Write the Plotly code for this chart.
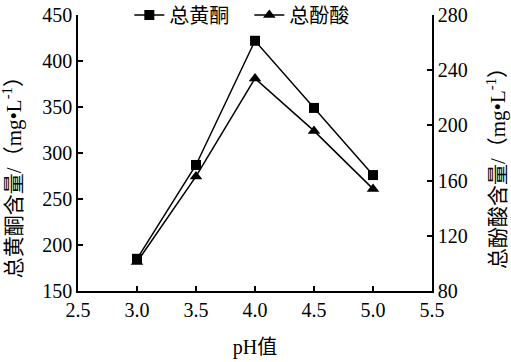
import plotly.graph_objects as go

ph = [3.0, 3.5, 4.0, 4.5, 5.0]
flavone = [185, 287, 422, 349, 276]
phenolic = [101, 163, 234, 196, 154]
name1 = "总黄酮"
name2 = "总酚酸"
xtitle = "pH值"
y1title = "总黄酮含量/（mg•L<sup>-1</sup>）"
y2title = "总酚酸含量/（mg•L<sup>-1</sup>）"

font_family = "Liberation Serif, Times New Roman, Noto Sans CJK SC, serif"

fig = go.Figure()
fig.add_trace(go.Scatter(x=ph, y=flavone, name=name1, mode="lines+markers",
                         line=dict(color="black", width=1.5),
                         marker=dict(symbol="square", size=10, color="black")))
fig.add_trace(go.Scatter(x=ph, y=phenolic, name=name2, mode="lines+markers", yaxis="y2",
                         line=dict(color="black", width=1.5),
                         marker=dict(symbol="triangle-up", size=11, color="black")))

axis_common = dict(showgrid=False, zeroline=False, showline=True, linecolor="black",
                   linewidth=1.5, ticks="inside", ticklen=5, tickcolor="black", tickwidth=1.5,
                   tickfont=dict(size=20, color="black", family=font_family))

fig.update_layout(
    width=511, height=362,
    margin=dict(l=78, r=79, t=15, b=71, autoexpand=False),
    paper_bgcolor="white", plot_bgcolor="white",
    font=dict(family=font_family, color="black", size=20),
    showlegend=True,
    legend=dict(orientation="h", x=0.145, y=1.0, xanchor="left", yanchor="middle",
                bgcolor="rgba(0,0,0,0)", font=dict(size=20), itemwidth=30,
                entrywidth=75, tracegroupgap=0),
    xaxis=dict(range=[2.5, 5.5], dtick=0.5, tickformat=".1f",
               title=dict(text=xtitle, standoff=20, font=dict(size=20)), **axis_common),
    yaxis=dict(range=[150, 450], dtick=50, **axis_common),
    yaxis2=dict(range=[80, 280], dtick=40, overlaying="y", side="right", **axis_common),
    annotations=[
        dict(text=y1title, xref="paper", yref="paper", x=-0.186, y=0.431,
             xanchor="center", yanchor="middle", textangle=-90, showarrow=False,
             font=dict(size=21, color="black", family=font_family)),
        dict(text=y2title, xref="paper", yref="paper", x=1.184, y=0.464,
             xanchor="center", yanchor="middle", textangle=-90, showarrow=False,
             font=dict(size=21, color="black", family=font_family)),
    ],
)

fig.write_html("out.html", config={"displayModeBar": False},
               post_script="document.body.style.margin='0';")
